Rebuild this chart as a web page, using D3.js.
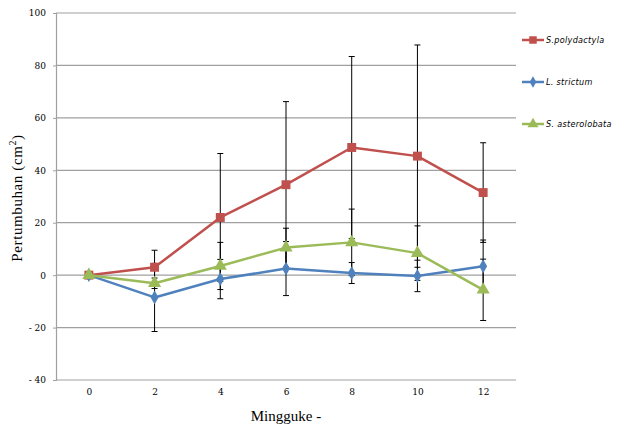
<!DOCTYPE html>
<html>
<head>
<meta charset="utf-8">
<script src="https://cdn.jsdelivr.net/npm/d3@7"></script>
<style>
  body { margin: 0; background: #fff; }
</style>
</head>
<body>
<div id="chart"></div>
<script>
const width = 617;
const height = 429;

// data
const weeks = ["0", "2", "4", "6", "8", "10", "12"];
const yTicks = [-40, -20, 0, 20, 40, 60, 80, 100];
const seriesNames = ["S.polydactyla", "L. strictum", "S. asterolobata"];
const polydactyla = [0, 3, 22, 34.5, 48.7, 45.4, 31.5];
const polydactylaErr = [0, 6.5, 24.4, 31.7, 34.7, 42.4, 19];
const strictum = [0, -8.5, -1.5, 2.5, 0.8, -0.3, 3.4];
const strictumErr = [0, 13, 7.5, 10.3, 4, 6, 10];
const asterolobata = [0, -3.1, 3.5, 10.5, 12.5, 8.4, -5.6];
const asterolobataErr = [0, 2, 9, 7.4, 12.7, 10.4, 11.7];

const colors = ["#c0504d", "#4f81bd", "#9bbb59"];
const shapes = [d3.symbolSquare, d3.symbolDiamond, d3.symbolTriangle];
const sizes = [80, 55, 75];

const series = [
  { name: seriesNames[0], values: polydactyla, err: polydactylaErr },
  { name: seriesNames[1], values: strictum, err: strictumErr },
  { name: seriesNames[2], values: asterolobata, err: asterolobataErr }
];

const plot = { left: 56, right: 516, top: 13, bottom: 380 };

const x = d3.scalePoint().domain(weeks).range([plot.left, plot.right]).padding(0.5);
const y = d3.scaleLinear().domain([-40, 100]).range([plot.bottom, plot.top]);

const svg = d3.select("#chart").append("svg")
  .attr("width", width)
  .attr("height", height);

// gridlines
svg.append("g")
  .selectAll("line")
  .data(yTicks)
  .join("line")
  .attr("x1", plot.left)
  .attr("x2", plot.right)
  .attr("y1", d => y(d))
  .attr("y2", d => y(d))
  .attr("stroke", "#a0a0a0")
  .attr("stroke-width", 1.2);

// y axis
const yAxis = svg.append("g")
  .attr("transform", `translate(${plot.left},0)`)
  .call(d3.axisLeft(y)
    .tickValues(yTicks)
    .tickFormat(d => d < 0 ? "- " + Math.abs(d) : String(d))
    .tickSize(3)
    .tickPadding(7));
yAxis.select(".domain").attr("stroke", "#a0a0a0").attr("stroke-width", 1.2);
yAxis.selectAll(".tick line").attr("stroke", "#a0a0a0");
yAxis.selectAll("text")
  .style("font-family", "'DejaVu Serif', serif")
  .style("font-size", "9px")
  .attr("fill", "#000");

// x axis labels (no axis line, Excel style)
const xAxis = svg.append("g")
  .attr("transform", `translate(0,${plot.bottom})`)
  .call(d3.axisBottom(x).tickSize(0).tickPadding(9));
xAxis.select(".domain").remove();
xAxis.selectAll("text")
  .style("font-family", "'DejaVu Serif', serif")
  .style("font-size", "9px")
  .attr("fill", "#000");

// axis titles
svg.append("text")
  .attr("x", 286)
  .attr("y", 421)
  .attr("text-anchor", "middle")
  .style("font-family", "'Liberation Serif', serif")
  .style("font-size", "15px")
  .text("Mingguke -");

const yTitle = svg.append("text")
  .attr("transform", "translate(22,198) rotate(-90)")
  .attr("text-anchor", "middle")
  .style("font-family", "'Liberation Serif', serif")
  .style("font-size", "15px")
  .style("letter-spacing", "0.6px");
yTitle.append("tspan").text("Pertumbuhan (cm");
yTitle.append("tspan").attr("dy", -6).style("font-size", "10px").text("2");
yTitle.append("tspan").attr("dy", 6).text(")");

// error bars
const capHalf = 3;
series.forEach(s => {
  const g = svg.append("g").attr("stroke", "#000").attr("stroke-width", 1);
  s.values.forEach((v, i) => {
    const e = s.err[i];
    if (!e) return;
    const cx = x(weeks[i]);
    g.append("line").attr("x1", cx).attr("x2", cx).attr("y1", y(v + e)).attr("y2", y(v - e));
    g.append("line").attr("x1", cx - capHalf).attr("x2", cx + capHalf).attr("y1", y(v + e)).attr("y2", y(v + e));
    g.append("line").attr("x1", cx - capHalf).attr("x2", cx + capHalf).attr("y1", y(v - e)).attr("y2", y(v - e));
  });
});

// lines and markers
const line = d3.line()
  .x((d, i) => x(weeks[i]))
  .y(d => y(d));

series.forEach((s, k) => {
  svg.append("path")
    .datum(s.values)
    .attr("d", line)
    .attr("fill", "none")
    .attr("stroke", colors[k])
    .attr("stroke-width", 2.5)
    .attr("stroke-linejoin", "round");

  svg.append("g")
    .selectAll("path")
    .data(s.values)
    .join("path")
    .attr("transform", (d, i) => `translate(${x(weeks[i])},${y(d)})`)
    .attr("d", d3.symbol().type(shapes[k]).size(sizes[k]))
    .attr("fill", colors[k]);
});

// legend
const legendY = [40, 82, 124];
const legend = svg.append("g");
series.forEach((s, k) => {
  const g = legend.append("g").attr("transform", `translate(522,${legendY[k]})`);
  g.append("line")
    .attr("x1", 0).attr("x2", 22)
    .attr("stroke", colors[k])
    .attr("stroke-width", 2.5);
  g.append("path")
    .attr("transform", "translate(11,0)")
    .attr("d", d3.symbol().type(shapes[k]).size(sizes[k] * 0.7))
    .attr("fill", colors[k]);
  g.append("text")
    .attr("x", 24)
    .attr("y", 3)
    .style("font-family", "'Liberation Sans Narrow', 'DejaVu Sans Condensed', sans-serif")
    .style("font-style", "italic")
    .style("font-size", "9px")
    .style("letter-spacing", "0.3px")
    .text(s.name);
});
</script>
</body>
</html>
